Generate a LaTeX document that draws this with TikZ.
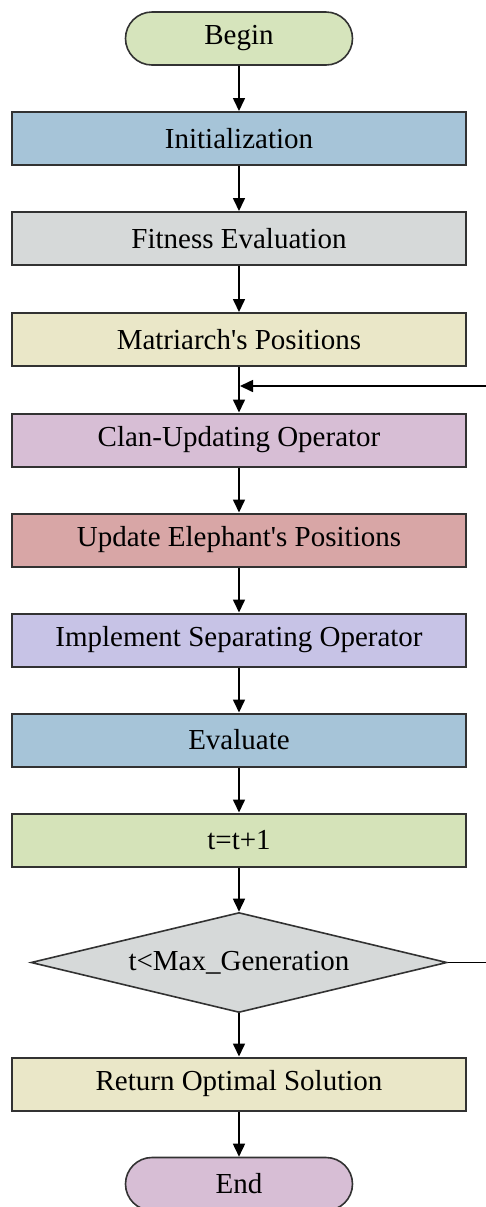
\documentclass[tikz,border=0pt]{standalone}
\usepackage{fontspec}
\setmainfont{Liberation Serif}
\usepackage[rgb]{xcolor}
\usetikzlibrary{arrows.meta,shapes.geometric,shapes.misc}

\definecolor{termgreen}{RGB}{214,228,188}
\definecolor{termpink}{RGB}{215,190,213}
\definecolor{boxblue}{RGB}{166,196,216}
\definecolor{boxgray}{RGB}{214,217,217}
\definecolor{boxtan}{RGB}{234,231,200}
\definecolor{boxpink}{RGB}{215,190,213}
\definecolor{boxred}{RGB}{216,166,166}
\definecolor{boxlav}{RGB}{199,195,230}
\definecolor{boxgreen}{RGB}{213,227,185}
\definecolor{edgec}{RGB}{50,50,50}

\tikzset{
  stepbox/.style={rectangle,draw=edgec,line width=1pt,minimum width=227pt,
    minimum height=26.5pt,inner sep=0pt,font=\fontsize{14.5}{17}\selectfont},
  terminal/.style={rounded rectangle,draw=edgec,line width=0.8pt,minimum width=113.5pt,
    minimum height=26.5pt,inner sep=0pt,font=\fontsize{14.5}{17}\selectfont},
  test/.style={diamond,aspect=4,draw=edgec,line width=0.8pt,minimum width=208pt,
    minimum height=50pt,inner sep=0pt,font=\fontsize{14.5}{17}\selectfont},
  flow/.style={line width=0.8pt,-{Triangle[length=6.5pt,width=6pt]}}
}

\begin{document}
\begin{tikzpicture}[x=0.5pt,y=-0.5pt]

  % page frame
  \useasboundingbox (0,0) rectangle (486,1207);

  % start and stop
  \node[terminal,fill=termgreen] (begin) at (239,38.5) {Begin};
  \node[terminal,fill=termpink] (end) at (239,1184) {End};

  % the steps
  \node[stepbox,fill=boxblue]  (init)  at (239,138.5) {Initialization};
  \node[stepbox,fill=boxgray]  (fit)   at (239,238.5) {Fitness Evaluation};
  \node[stepbox,fill=boxtan]   (matr)  at (239,339.5) {Matriarch\textquotesingle s Positions};
  \node[stepbox,fill=boxpink]  (clan)  at (239,440)   {Clan-Updating Operator};
  \node[stepbox,fill=boxred]   (upd)   at (239,540)   {Update Elephant\textquotesingle s Positions};
  \node[stepbox,fill=boxlav]   (sep)   at (239,640)   {Implement Separating Operator};
  \node[stepbox,fill=boxblue]  (eval)  at (239,740)   {Evaluate};
  \node[stepbox,fill=boxgreen] (incr)  at (239,840)   {t=t+1};
  \node[test,fill=boxgray]     (cond)  at (239,962.5) {t<Max\_Generation};
  \node[stepbox,fill=boxtan]   (ret)   at (239,1084)  {Return Optimal Solution};

  % straight arrows down the chain
  \foreach \a/\b in {begin/init,init/fit,fit/matr,matr/clan,clan/upd,upd/sep,
                     sep/eval,eval/incr,incr/cond,cond/ret,ret/end}
    \draw[flow] (\a) -- (\b);

  % loop back (runs off the right edge)
  \coordinate (join) at (240,386);
  \draw[flow] (cond.east) -- ++(60,0) |- (join);

\end{tikzpicture}
\end{document}
